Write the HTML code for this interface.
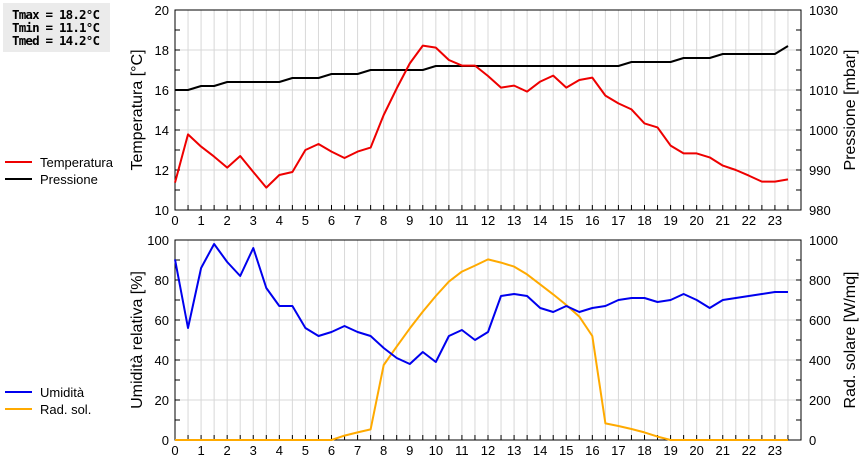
<!DOCTYPE html>
<html><head><meta charset="utf-8"><style>
body{margin:0;background:#fff;}
svg{display:block;font-family:"Liberation Sans",sans-serif;}
</style></head><body>
<svg id="c" width="860" height="460" xmlns="http://www.w3.org/2000/svg">
<rect x="0" y="0" width="860" height="460" fill="#fff"/>
<rect x="3" y="3" width="107" height="49" fill="#ebebeb"/>
<g font-family="'DejaVu Sans Mono','Liberation Mono',monospace" font-weight="bold" font-size="12.5" fill="#000">
<text x="12" y="19" textLength="88">Tmax = 18.2°C</text>
<text x="12" y="32" textLength="88">Tmin = 11.1°C</text>
<text x="12" y="45" textLength="88">Tmed = 14.2°C</text>
</g>
<g font-size="13">
<line x1="5" y1="162" x2="32" y2="162" stroke="#e00" stroke-width="2"/>
<text x="40" y="167">Temperatura</text>
<line x1="5" y1="179" x2="32" y2="179" stroke="#000" stroke-width="2"/>
<text x="40" y="184">Pressione</text>
<line x1="5" y1="392" x2="32" y2="392" stroke="#00e" stroke-width="2"/>
<text x="40" y="397">Umidità</text>
<line x1="5" y1="409" x2="32" y2="409" stroke="#fa0" stroke-width="2"/>
<text x="40" y="414">Rad. sol.</text>
</g>
<g id="g"></g>
</svg>
<script>
const hours=[0,0.5,1,1.5,2,2.5,3,3.5,4,4.5,5,5.5,6,6.5,7,7.5,8,8.5,9,9.5,10,10.5,11,11.5,12,12.5,13,13.5,14,14.5,15,15.5,16,16.5,17,17.5,18,18.5,19,19.5,20,20.5,21,21.5,22,22.5,23,23.5];
const temp=[11.37,13.78,13.17,12.67,12.12,12.7,11.9,11.12,11.75,11.9,13.0,13.3,12.92,12.6,12.92,13.12,14.75,16.08,17.33,18.22,18.12,17.5,17.22,17.22,16.7,16.12,16.22,15.92,16.42,16.72,16.12,16.5,16.62,15.72,15.33,15.03,14.33,14.13,13.22,12.83,12.83,12.63,12.22,12.0,11.72,11.42,11.42,11.53];
const press=[1010,1010,1011,1011,1012,1012,1012,1012,1012,1013,1013,1013,1014,1014,1014,1015,1015,1015,1015,1015,1016,1016,1016,1016,1016,1016,1016,1016,1016,1016,1016,1016,1016,1016,1016,1017,1017,1017,1017,1018,1018,1018,1019,1019,1019,1019,1019,1021];
const hum=[90.3,56,86,98,89,82,96,76,67,67,56,52,54,57,54,52,46,41,38,44,39,52,55,50,54,72,73,72,66,64,67,64,66,67,70,71,71,69,70,73,70,66,70,71,72,73,74,74];
const rad=[0,0,0,0,0,0,0,0,0,0,0,0,0,22,38,53,375,467,558,642,720,792,842,872,903,887,867,828,778,728,675,617,520,83,70,55,38,17,0,0,0,0,0,0,0,0,0,0];
const xTicks=[0,1,2,3,4,5,6,7,8,9,10,11,12,13,14,15,16,17,18,19,20,21,22,23];
const tempTicks=[10,12,14,16,18,20];
const pressTicks=[980,990,1000,1010,1020,1030];
const humTicks=[0,20,40,60,80,100];
const radTicks=[0,200,400,600,800,1000];

const NS="http://www.w3.org/2000/svg";
const G=document.getElementById('g');
const X0=175,X1=801;
const xs=h=>X0+(h/24)*(X1-X0);
function mk(tag,attrs,txt){const e=document.createElementNS(NS,tag);for(const k in attrs)e.setAttribute(k,attrs[k]);if(txt!==undefined)e.textContent=txt;G.appendChild(e);return e;}
function scale(min,max,top,bot){return v=>bot-(v-min)/(max-min)*(bot-top);}

function panel(top,bot,lMin,lMax,lTicks,rMin,rMax,rTicks,lTitle,rTitle,key){
  const yl=scale(lMin,lMax,top,bot),yr=scale(rMin,rMax,top,bot);
  for(let h=0.5;h<24;h+=0.5){const l=mk('line',{x1:xs(h),x2:xs(h),y1:top,y2:bot,stroke:'#d8d8d8','stroke-width':1});
    
    }
  lTicks.forEach(v=>{if(v===lMin||v===lMax)return;const l=mk('line',{x1:X0,x2:X1,y1:yl(v),y2:yl(v),stroke:'#d8d8d8','stroke-width':1});
    
    });
  const st=(lMax-lMin)/(lTicks.length-1)/2;
  for(let v=lMin;v<=lMax+1e-9;v+=st){const y=yl(v);mk('line',{x1:X0,x2:X0+5,y1:y,y2:y,stroke:'#000'});mk('line',{x1:X1-5,x2:X1,y1:y,y2:y,stroke:'#000'});}
  for(let h=0.5;h<24;h+=0.5){mk('line',{x1:xs(h),x2:xs(h),y1:bot,y2:bot-5,stroke:'#000'});}
  lTicks.forEach(v=>{const t=mk('text',{x:X0-6,y:yl(v)+5,'text-anchor':'end','font-size':13},String(v));
    
    });
  rTicks.forEach(v=>{const t=mk('text',{x:X1+8,y:yr(v)+5,'font-size':13},String(v));
    
    });
  xTicks.forEach(h=>{const t=mk('text',{x:xs(h),y:bot+15,'text-anchor':'middle','font-size':13},String(h));
    
    });
  const r=mk('rect',{x:X0,y:top,width:X1-X0,height:bot-top,fill:'none',stroke:'#000','stroke-width':1});
  
  
  const cy=(top+bot)/2;
  const a=mk('text',{x:0,y:0,'text-anchor':'middle','font-size':16,transform:`translate(142,${cy}) rotate(-90)`},lTitle);
  
  
  const b=mk('text',{x:0,y:0,'text-anchor':'middle','font-size':16,transform:`translate(855,${cy}) rotate(-90)`},rTitle);
  
  
  return {yl,yr};
}
function series(vals,y,color,name){
  const d=vals.map((v,i)=>(i?'L':'M')+xs(hours[i]).toFixed(1)+','+y(v).toFixed(1)).join('');
  const p=mk('path',{d:d,fill:'none',stroke:color,'stroke-width':2,'stroke-linejoin':'round'});
  
  
}
const t=panel(10,210,10,20,tempTicks,980,1030,pressTicks,'Temperatura [°C]','Pressione [mbar]','top');
series(press,t.yr,'#000','pressione-line');
series(temp,t.yl,'#e00','temperatura-line');
const b=panel(240,440,0,100,humTicks,0,1000,radTicks,'Umidità relativa [%]','Rad. solare [W/mq]','bottom');
series(rad,b.yr,'#fa0','rad-sol-line');
series(hum,b.yl,'#00e','umidita-line');
</script>
</body></html>
